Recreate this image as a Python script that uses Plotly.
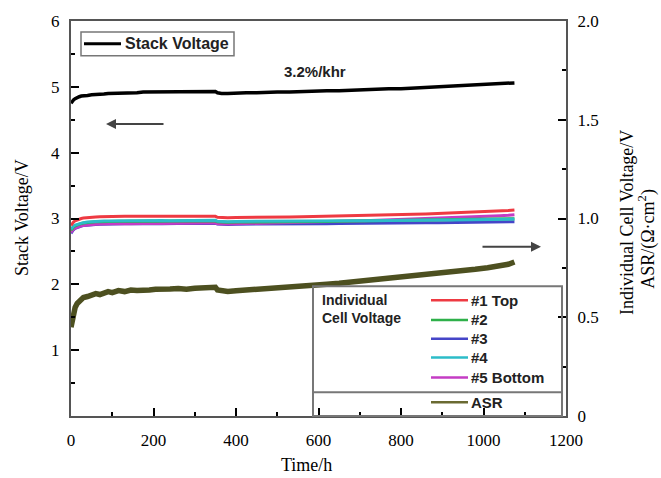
import plotly.graph_objects as go

# Test time (h)
time_h = [0, 3, 6, 10, 15, 20, 25, 30, 40, 50, 60, 70, 80, 90, 100, 115, 130, 145, 160, 175,
          190, 205, 220, 240, 260, 280, 300, 320, 340, 350, 355, 365, 380, 400, 425, 450, 475,
          500, 530, 560, 590, 620, 650, 680, 710, 740, 770, 800, 830, 860, 890, 920, 950, 980,
          1010, 1040, 1060, 1075]

# Stack voltage (V), left axis
stack_v = [4.75, 4.78, 4.80, 4.82, 4.84, 4.85, 4.86, 4.86, 4.87, 4.88, 4.88, 4.89, 4.89, 4.90,
           4.90, 4.90, 4.91, 4.91, 4.91, 4.92, 4.92, 4.92, 4.92, 4.92, 4.93, 4.93, 4.93, 4.93,
           4.93, 4.93, 4.91, 4.90, 4.90, 4.91, 4.91, 4.91, 4.92, 4.92, 4.92, 4.93, 4.93, 4.94,
           4.94, 4.95, 4.95, 4.96, 4.97, 4.97, 4.98, 4.98, 4.99, 5.00, 5.01, 5.02, 5.03, 5.04,
           5.05, 5.06]

# Individual cell voltages (V), right axis
cell1_top = [0.965, 0.975, 0.982, 0.988, 0.993, 0.997, 1.000, 1.002, 1.005, 1.007, 1.008, 1.009,
             1.010, 1.010, 1.011, 1.011, 1.012, 1.011, 1.011, 1.012, 1.011, 1.011, 1.012, 1.011,
             1.011, 1.012, 1.011, 1.011, 1.012, 1.011, 1.006, 1.004, 1.004, 1.005, 1.005, 1.006,
             1.006, 1.007, 1.008, 1.009, 1.010, 1.011, 1.012, 1.013, 1.015, 1.016, 1.018, 1.019,
             1.021, 1.023, 1.025, 1.027, 1.029, 1.031, 1.034, 1.037, 1.040, 1.043]
cell2 = [0.940, 0.950, 0.957, 0.963, 0.968, 0.972, 0.975, 0.977, 0.980, 0.982, 0.983, 0.984,
         0.985, 0.985, 0.986, 0.986, 0.986, 0.987, 0.986, 0.987, 0.987, 0.986, 0.987, 0.987,
         0.987, 0.988, 0.987, 0.988, 0.988, 0.988, 0.983, 0.981, 0.981, 0.982, 0.982, 0.982,
         0.983, 0.983, 0.984, 0.984, 0.985, 0.985, 0.986, 0.987, 0.987, 0.988, 0.989, 0.989,
         0.990, 0.991, 0.992, 0.993, 0.994, 0.995, 0.996, 0.997, 0.998, 0.999]
cell3 = [0.925, 0.935, 0.943, 0.950, 0.955, 0.959, 0.962, 0.964, 0.967, 0.969, 0.970, 0.971,
         0.972, 0.972, 0.973, 0.973, 0.974, 0.973, 0.974, 0.974, 0.974, 0.975, 0.974, 0.975,
         0.975, 0.975, 0.976, 0.975, 0.976, 0.976, 0.972, 0.970, 0.970, 0.971, 0.971, 0.972,
         0.972, 0.972, 0.973, 0.973, 0.974, 0.974, 0.975, 0.975, 0.976, 0.976, 0.977, 0.977,
         0.978, 0.978, 0.979, 0.980, 0.980, 0.981, 0.982, 0.983, 0.983, 0.984]
cell4 = [0.945, 0.954, 0.961, 0.967, 0.971, 0.975, 0.977, 0.979, 0.982, 0.984, 0.985, 0.986,
         0.987, 0.987, 0.988, 0.988, 0.988, 0.989, 0.988, 0.989, 0.989, 0.989, 0.990, 0.989,
         0.990, 0.990, 0.990, 0.990, 0.991, 0.991, 0.986, 0.984, 0.984, 0.985, 0.985, 0.985,
         0.986, 0.986, 0.986, 0.987, 0.987, 0.987, 0.988, 0.988, 0.989, 0.989, 0.990, 0.990,
         0.991, 0.991, 0.992, 0.993, 0.993, 0.994, 0.995, 0.996, 0.996, 0.997]
cell5_bottom = [0.930, 0.939, 0.946, 0.952, 0.957, 0.960, 0.963, 0.965, 0.968, 0.970, 0.971,
                0.972, 0.973, 0.973, 0.974, 0.974, 0.975, 0.974, 0.975, 0.975, 0.975, 0.976,
                0.975, 0.976, 0.976, 0.976, 0.977, 0.977, 0.977, 0.977, 0.973, 0.972, 0.972,
                0.973, 0.974, 0.975, 0.976, 0.977, 0.978, 0.980, 0.981, 0.983, 0.985, 0.987,
                0.989, 0.991, 0.993, 0.995, 0.997, 0.999, 1.001, 1.004, 1.006, 1.008, 1.011,
                1.014, 1.016, 1.019]

# Area specific resistance (Ohm cm^2), right axis
asr = [0.450, 0.490, 0.530, 0.550, 0.570, 0.580, 0.585, 0.600, 0.605, 0.610, 0.620, 0.615,
       0.625, 0.630, 0.625, 0.635, 0.630, 0.638, 0.635, 0.640, 0.638, 0.642, 0.640, 0.643,
       0.645, 0.642, 0.647, 0.648, 0.650, 0.652, 0.638, 0.632, 0.630, 0.634, 0.637, 0.640,
       0.643, 0.647, 0.651, 0.656, 0.661, 0.667, 0.672, 0.678, 0.684, 0.690, 0.697, 0.703,
       0.709, 0.715, 0.722, 0.729, 0.736, 0.743, 0.751, 0.760, 0.768, 0.780]

x_ticks = [0, 200, 400, 600, 800, 1000, 1200]
left_ticks = [1, 2, 3, 4, 5, 6]
right_ticks = [0, 0.5, 1.0, 1.5, 2.0]
right_tick_text = ["0", "0.5", "1.0", "1.5", "2.0"]

cells = [
    ("#3", cell3, "#4545c8"),
    ("#5 Bottom", cell5_bottom, "#c43cc4"),
    ("#2", cell2, "#2eb04a"),
    ("#4", cell4, "#2cbcc8"),
    ("#1 Top", cell1_top, "#ee3a42"),
]
legend_order = [("#1 Top", "#ee3a42"), ("#2", "#2eb04a"), ("#3", "#4545c8"),
                ("#4", "#2cbcc8"), ("#5 Bottom", "#c43cc4")]
ASR_COLOR = "#4d5020"

fig = go.Figure()
fig.add_trace(go.Scatter(x=time_h, y=asr, yaxis="y2", mode="lines",
                         line=dict(color=ASR_COLOR, width=5.5), name="ASR"))
for name, vals, col in cells:
    fig.add_trace(go.Scatter(x=time_h, y=vals, yaxis="y2", mode="lines",
                             line=dict(color=col, width=3), name=name))
fig.add_trace(go.Scatter(x=time_h, y=stack_v, mode="lines",
                         line=dict(color="black", width=3.5), name="Stack Voltage"))

# plot area in pixels: x 71..566, y 17..416
L, R, T, B = 71, 566, 17, 416
def px(xp):
    return (xp - L) / (R - L)
def py(yp):
    return (B - yp) / (B - T)

FRAME = "#555555"
SERIF = "Liberation Serif, Times New Roman, serif"
SANS = "Liberation Sans, Arial, sans-serif"
tick_font = dict(family=SERIF, size=17, color="black")
title_font = dict(family=SERIF, size=18, color="black")
legend_font = dict(family=SANS, size=15, color="#222222", weight="bold")
legend_head = dict(family=SANS, size=14, color="#222222", weight="bold")

shapes = []
annotations = []

# Stack voltage legend box
shapes.append(dict(type="rect", xref="paper", yref="paper", x0=px(81), x1=px(234),
                   y0=py(52), y1=py(28), line=dict(color="#777777", width=1.5)))
shapes.append(dict(type="line", xref="paper", yref="paper", x0=px(84), x1=px(121),
                   y0=py(40), y1=py(40), line=dict(color="black", width=3)))
annotations.append(dict(xref="paper", yref="paper", x=px(123), y=py(40), text="Stack Voltage",
                        showarrow=False, xanchor="left", yanchor="middle",
                        font=dict(family=SANS, size=16, color="#222222", weight="bold")))

# Cell voltage / ASR legend box
shapes.append(dict(type="rect", xref="paper", yref="paper", x0=px(313), x1=px(562),
                   y0=py(416), y1=py(285), line=dict(color="#777777", width=2)))
shapes.append(dict(type="line", xref="paper", yref="paper", x0=px(313), x1=px(562),
                   y0=py(392), y1=py(392), line=dict(color="#777777", width=2)))
annotations.append(dict(xref="paper", yref="paper", x=px(320), y=py(289),
                        text="Individual<br>Cell Voltage", showarrow=False, align="left",
                        xanchor="left", yanchor="top", font=legend_head))
rows_y = [299, 319, 338, 357, 377]
for (name, col), yy in zip(legend_order, rows_y):
    shapes.append(dict(type="line", xref="paper", yref="paper", x0=px(431), x1=px(468),
                       y0=py(yy), y1=py(yy), line=dict(color=col, width=2.5)))
    annotations.append(dict(xref="paper", yref="paper", x=px(469), y=py(yy), text=name,
                            showarrow=False, xanchor="left", yanchor="middle", font=legend_font))
shapes.append(dict(type="line", xref="paper", yref="paper", x0=px(431), x1=px(468),
                   y0=py(402), y1=py(402), line=dict(color="#6a6a32", width=2.5)))
annotations.append(dict(xref="paper", yref="paper", x=px(469), y=py(402), text="ASR",
                        showarrow=False, xanchor="left", yanchor="middle", font=legend_font))

# degradation rate label
annotations.append(dict(xref="paper", yref="paper", x=px(315), y=py(68), text="3.2%/khr",
                        showarrow=False, xanchor="center", yanchor="middle",
                        font=dict(family=SANS, size=15, color="#222222", weight="bold")))

# axis-pointing arrows
annotations.append(dict(xref="x domain", yref="y domain", x=px(106), y=py(121),
                        axref="x domain", ayref="y domain", ax=px(165), ay=py(121), text="",
                        showarrow=True, arrowhead=2, arrowsize=1, arrowwidth=2,
                        arrowcolor="#444444"))
annotations.append(dict(xref="x domain", yref="y domain", x=px(541), y=py(245),
                        axref="x domain", ayref="y domain", ax=px(481), ay=py(245), text="",
                        showarrow=True, arrowhead=2, arrowsize=1, arrowwidth=2,
                        arrowcolor="#444444"))

# axis titles
annotations.append(dict(xref="paper", yref="paper", x=px(22), y=py(216), text="Stack Voltage/V",
                        showarrow=False, textangle=-90, xanchor="center", yanchor="middle",
                        font=title_font))
annotations.append(dict(xref="paper", yref="paper", x=px(306), y=py(466), text="Time/h",
                        showarrow=False, xanchor="center", yanchor="middle", font=title_font))
annotations.append(dict(xref="paper", yref="paper", x=px(627), y=py(221),
                        text="Individual Cell Voltage/V", showarrow=False, textangle=-90,
                        xanchor="center", yanchor="middle", font=title_font))
annotations.append(dict(xref="paper", yref="paper", x=px(647), y=py(237),
                        text="ASR/(Ω·cm<sup>2</sup>)", showarrow=False, textangle=-90,
                        xanchor="center", yanchor="middle", font=title_font))

axis_common = dict(showline=True, linecolor=FRAME, linewidth=2, ticks="inside", ticklen=8,
                   tickwidth=2, tickcolor="black", showgrid=False, zeroline=False,
                   tickfont=tick_font)

fig.update_layout(
    width=661, height=478,
    margin=dict(l=L, r=661 - R, t=T, b=478 - B),
    paper_bgcolor="white", plot_bgcolor="white",
    showlegend=False,
    xaxis=dict(range=[0, 1200], tickvals=x_ticks, mirror=True,
               minor=dict(ticks="inside", ticklen=4, tickwidth=1.5, tickcolor="black", dtick=100),
               ticklabelstandoff=8, **axis_common),
    yaxis=dict(range=[0, 6], tickvals=left_ticks, mirror=True,
               minor=dict(ticks="inside", ticklen=4, tickwidth=1.5, tickcolor="black",
                          tickvals=[0.5, 1.5, 2.5, 3.5, 4.5, 5.5]),
               ticklabelstandoff=6, **axis_common),
    yaxis2=dict(range=[0, 2], overlaying="y", side="right", tickvals=right_ticks,
                ticktext=right_tick_text,
                minor=dict(ticks="inside", ticklen=4, tickwidth=1.5, tickcolor="black",
                           tickvals=[0.25, 0.75, 1.25, 1.75]),
                ticklabelstandoff=6, **axis_common),
    shapes=shapes,
    annotations=annotations,
)

fig.write_html("out.html")
